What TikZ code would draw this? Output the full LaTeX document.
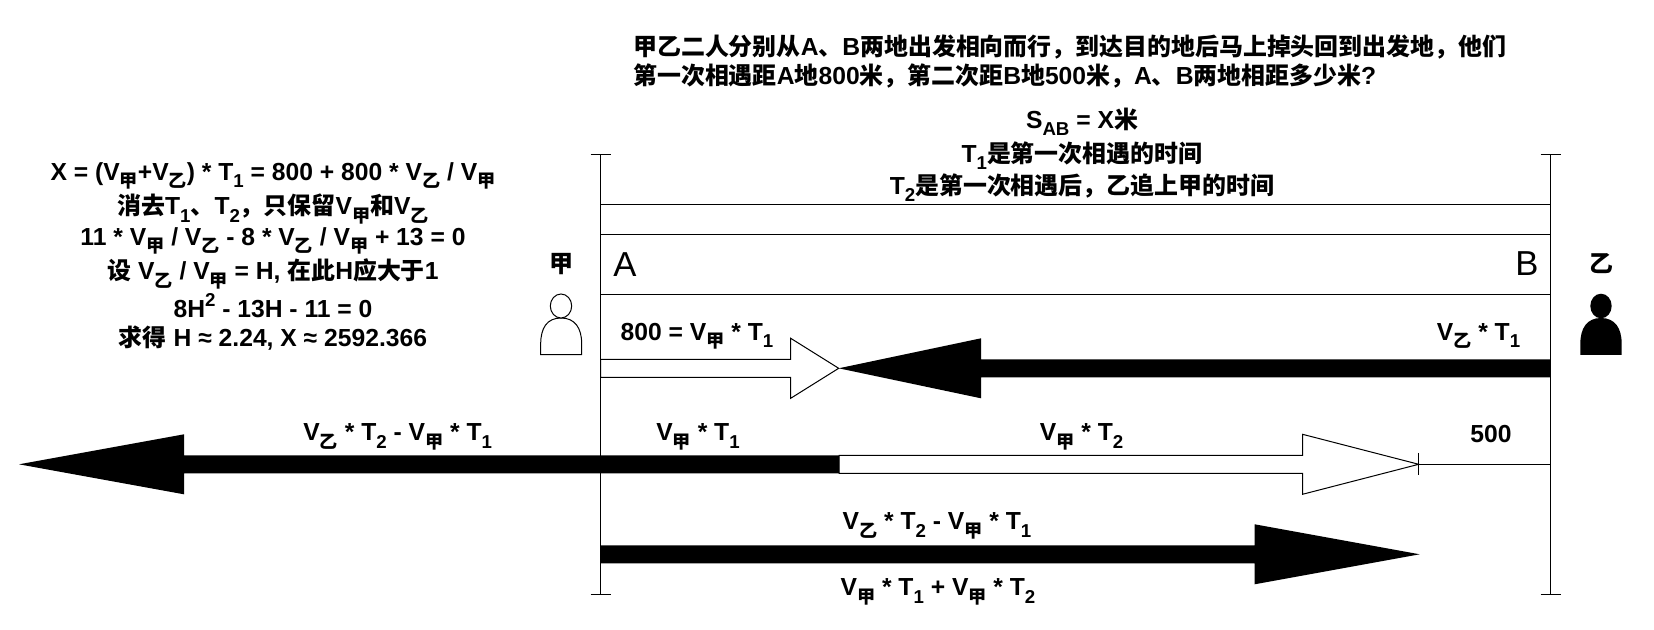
\documentclass[tikz,border=0pt]{standalone}
\usepackage{fontspec}
\setmainfont{Liberation Sans}
\newfontfamily\cjk[Scale=0.97]{Noto Sans CJK SC}
\newcommand{\C}[1]{{\cjk\bfseries #1}}
\newcommand{\lo}[1]{\raisebox{-.3em}{\fontsize{14}{14}\selectfont\bfseries #1}}
\newcommand{\up}[1]{\raisebox{.42em}{\fontsize{14}{14}\selectfont\bfseries #1}}
\newcommand{\Vj}{V\lo{\C{甲}}}
\newcommand{\Vy}{V\lo{\C{乙}}}
\newcommand{\Ta}{T\lo{1}}
\newcommand{\Tb}{T\lo{2}}
\newcommand{\blockarrow}[6]{% style, start, base, tip, y, name
  \draw[#1] (#2,#5-9) -- (#3,#5-9) -- (#3,#5-30) -- (#4,#5) -- (#3,#5+30) -- (#3,#5+9) -- (#2,#5+9) -- cycle;
}
\tikzset{
  line/.style={draw=black,line width=0.75pt},
  hollowarrow/.style={line,fill=white,line join=miter},
  solidarrow/.style={fill=black,draw=none},
  lab/.style={font=\fontsize{18.5}{21.75}\selectfont\bfseries,inner sep=0pt,align=center},
  big/.style={font=\fontsize{26}{30}\selectfont,inner sep=0pt},
}
\begin{document}
\begin{tikzpicture}[x=0.75pt,y=-0.75pt]
\fill[white] (0,0) rectangle (1654,630);
\useasboundingbox (0,0) rectangle (1654,630);

% frame
\coordinate (tl) at (600.7,154.3);
\coordinate (bl) at (600.7,594.3);
\coordinate (tr) at (1550.7,154.3);
\coordinate (br) at (1550.7,594.3);
\draw[line] (tl) -- (bl);
\draw[line] (tr) -- (br);
\draw[line] (590.7,154.3) -- (610.7,154.3);
\draw[line] (590.7,594.3) -- (610.7,594.3);
\draw[line] (1540.7,154.3) -- (1560.7,154.3);
\draw[line] (1540.7,594.3) -- (1560.7,594.3);
\draw[line] (600.7,204.3) -- (1550.7,204.3);
\draw[line] (600.7,234.3) -- (1550.7,234.3);
\draw[line] (600.7,294.3) -- (1550.7,294.3);

% row 1
\blockarrow{hollowarrow}{600.7}{790.7}{838.7}{368.3}{}
\blockarrow{solidarrow}{1550.7}{981}{838.7}{368.3}{}

% row 2
\blockarrow{hollowarrow}{839}{1302.5}{1418.7}{464.3}{}
\blockarrow{solidarrow}{839}{184}{19}{464.3}{}
\draw[line] (1418.7,453) -- (1418.7,475);
\draw[line] (1418.7,464.3) -- (1550.7,464.3);

% row 3
\blockarrow{solidarrow}{600.7}{1254.7}{1419.7}{554.3}{}

% persons
\draw[line,fill=white] (540.7,354.7) -- (540.7,344) .. controls (540.7,328) and (547,318) .. (561,318) .. controls (575,318) and (581.7,328) .. (581.7,344) -- (581.7,354.7) -- cycle;
\draw[line,fill=white] (561,306) ellipse [x radius=10.7,y radius=12];
\fill[black] (1580.3,355) -- (1580.3,344) .. controls (1580.3,328) and (1587,318) .. (1601,318) .. controls (1615,318) and (1621.7,328) .. (1621.7,344) -- (1621.7,355) -- cycle;
\fill[black] (1601,306) ellipse [x radius=10.7,y radius=12.3];

% texts
\node[lab,anchor=west,align=left] (q) at (633,61.5) {\C{甲乙二人分别从}A\C{、}B\C{两地出发相向而行，到达目的地后马上掉头回到出发地，他们}\\\C{第一次相遇距}A\C{地}800\C{米，第二次距}B\C{地}500\C{米，}A\C{、}B\C{两地相距多少米}?};
\node[lab] (sab) at (1082,122) {S\lo{AB} = X\C{米}};
\node[lab] (t1) at (1082,155.7) {\Ta\C{是第一次相遇的时间}};
\node[lab] (t2) at (1082,187.7) {\Tb\C{是第一次相遇后，乙追上甲的时间}};

\node[lab] (l1) at (273,175.7) {X = (\Vj+\Vy) * \Ta{} = 800 + 800 * \Vy{} / \Vj};
\node[lab] (l2) at (273,209) {\C{消去}\Ta\C{、}\Tb\C{，只保留}\Vj\C{和}\Vy};
\node[lab] (l3) at (273,241) {11 * \Vj{} / \Vy{} - 8 * \Vy{} / \Vj{} + 13 = 0};
\node[lab] (l4) at (273,274) {\C{设} \Vy{} / \Vj{} = H, \C{在此}H\C{应大于}1};
\node[lab] (l5) at (273,305.7) {8H\up{2} - 13H - 11 = 0};
\node[lab] (l6) at (273,338) {\C{求得} H ≈ 2.24, X ≈ 2592.366};

\node[lab] (pj) at (561,264) {\C{甲}};
\node[lab] (py) at (1601.7,263.5) {\C{乙}};
\node[big] (A) at (625,265) {A};
\node[big] (B) at (1527,264) {B};

\node[lab] (r1a) at (697,336) {800 = \Vj{} * \Ta};
\node[lab] (r1b) at (1478.5,336) {\Vy{} * \Ta};
\node[lab] (r2a) at (397.7,437) {\Vy{} * \Tb{} - \Vj{} * \Ta};
\node[lab] (r2b) at (698,437) {\Vj{} * \Ta};
\node[lab] (r2c) at (1081.6,437) {\Vj{} * \Tb};
\node[lab] (r2d) at (1491,434) {500};
\node[lab] (r3a) at (937,526) {\Vy{} * \Tb{} - \Vj{} * \Ta};
\node[lab] (r3b) at (938,592) {\Vj{} * \Ta{} + \Vj{} * \Tb};
\end{tikzpicture}
\end{document}
